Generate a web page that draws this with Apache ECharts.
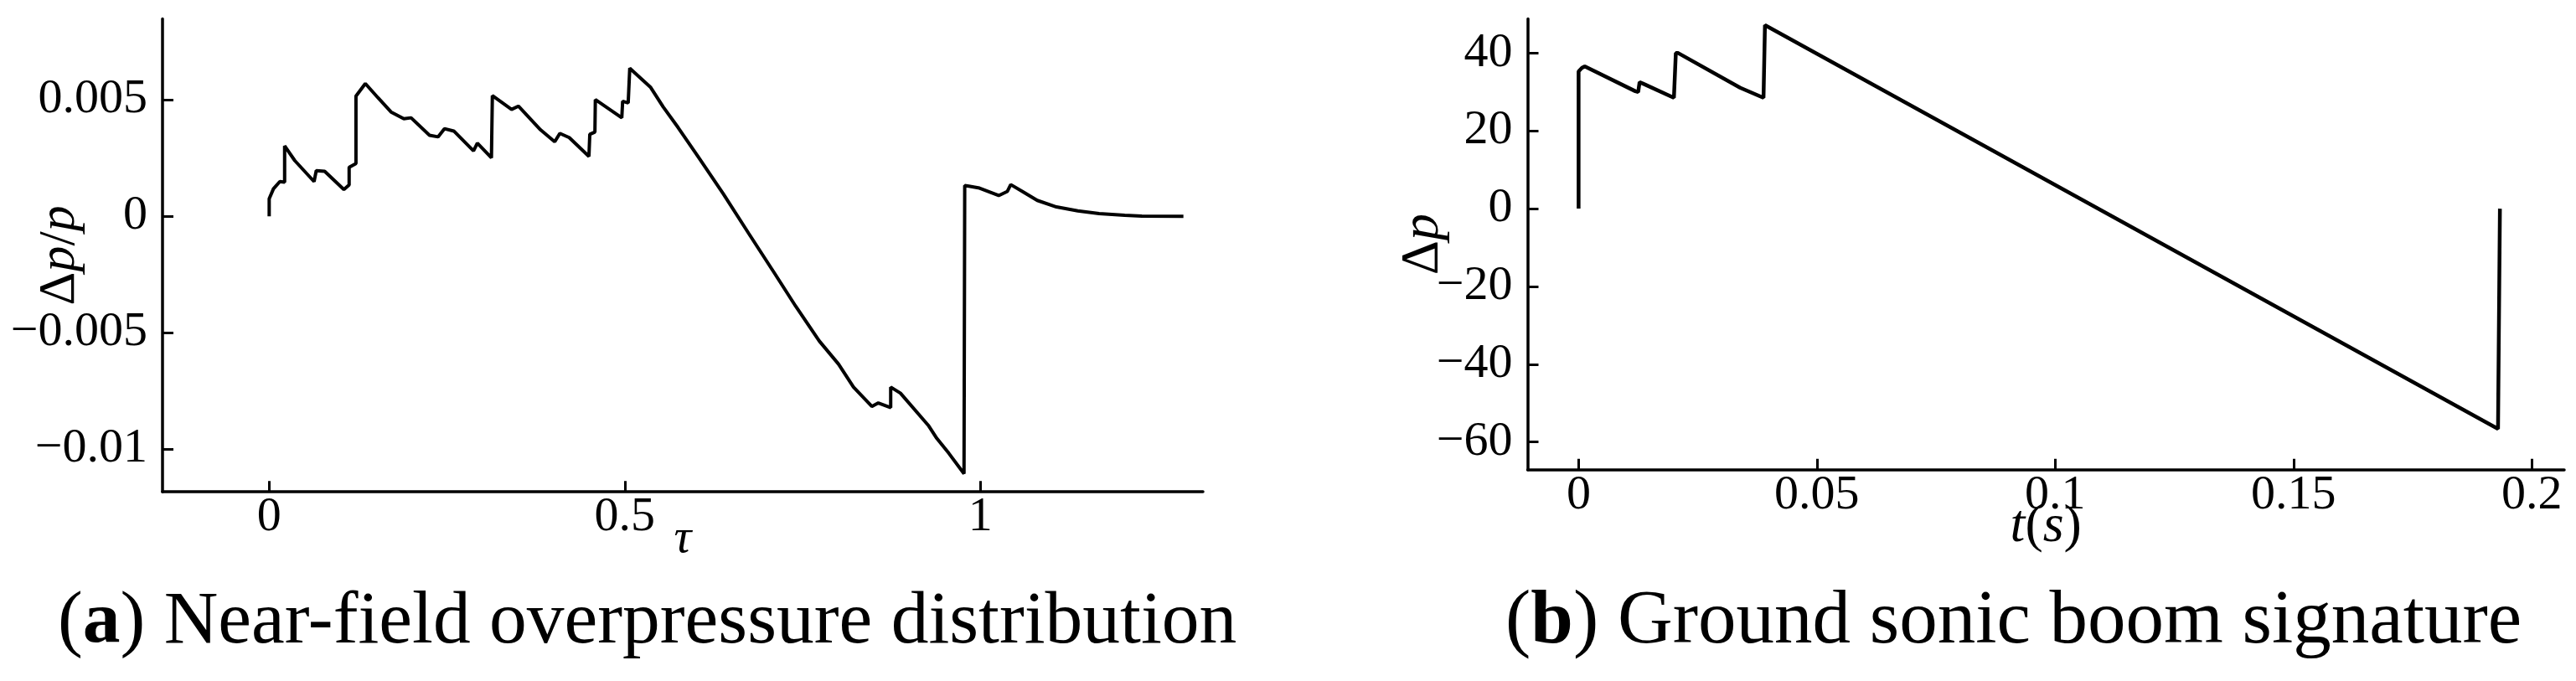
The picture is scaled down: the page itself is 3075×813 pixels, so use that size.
<!DOCTYPE html>
<html>
<head>
<meta charset="utf-8">
<script src="https://cdn.jsdelivr.net/npm/echarts@6/dist/echarts.min.js"></script>
<style>
html,body{margin:0;padding:0;background:#fff;}
#c{width:3075px;height:813px;}
</style>
</head>
<body>
<div id="c"></div>
<script>
// (a) Near-field overpressure distribution
const tauA = [0, 0, 0.006, 0.015, 0.0217, 0.0217, 0.036, 0.0631, 0.0662, 0.078, 0.105, 0.1124, 0.1124, 0.122, 0.122, 0.1352, 0.153, 0.1713, 0.1893, 0.1995, 0.2254, 0.2374, 0.2464, 0.2596, 0.2873, 0.2927, 0.3125, 0.3138, 0.3408, 0.3504, 0.3816, 0.4015, 0.4087, 0.4219, 0.4496, 0.4508, 0.458, 0.4586, 0.4958, 0.497, 0.5048, 0.507, 0.536, 0.554, 0.575, 0.6022, 0.6383, 0.6743, 0.7104, 0.7404, 0.7735, 0.8005, 0.8216, 0.8474, 0.8565, 0.8739, 0.8739, 0.8876, 0.9267, 0.9387, 0.9556, 0.977, 0.978, 0.9838, 0.9988, 1.0258, 1.038, 1.0427, 1.0589, 1.08, 1.107, 1.137, 1.167, 1.203, 1.227, 1.2855];
const dpA = [0, 0.00075, 0.00118, 0.00149, 0.00146, 0.00302, 0.00239, 0.00149, 0.00196, 0.00193, 0.00115, 0.00135, 0.0021, 0.00226, 0.00516, 0.0057, 0.00509, 0.00448, 0.00419, 0.00423, 0.00348, 0.00341, 0.00376, 0.00366, 0.00281, 0.00314, 0.00251, 0.00518, 0.00459, 0.00473, 0.00371, 0.0032, 0.00356, 0.00338, 0.00257, 0.00352, 0.00362, 0.00501, 0.00423, 0.00494, 0.00487, 0.00636, 0.00555, 0.0047, 0.00381, 0.0026, 0.00097, -0.00074, -0.00244, -0.00387, -0.00536, -0.00635, -0.00734, -0.00817, -0.00802, -0.00822, -0.00734, -0.0076, -0.00898, -0.00954, -0.01018, -0.01106, 0.00132, 0.00129, 0.00121, 0.00089, 0.00107, 0.00136, 0.00107, 0.00068, 0.0004, 0.00023, 0.00011, 0.00004, 0.00001, 0];
const xTicksA = [0, 0.5, 1];
const yTicksA = [0.005, 0, -0.005, -0.01];

// (b) Ground sonic boom signature
const tB = [0, 0, 0.0007, 0.0013, 0.0119, 0.0125, 0.0128, 0.01344, 0.0200, 0.0204, 0.0209, 0.0339, 0.0388, 0.0391, 0.1929, 0.1933];
const dpB = [0, 35.3, 36.2, 36.6, 30.2, 30.0, 32.5, 32.2, 28.5, 40.0, 40.0, 31.1, 28.5, 47.2, -56.6, 0];
const xTicksB = [0, 0.05, 0.1, 0.15, 0.2];
const yTicksB = [40, 20, 0, -20, -40, -60];

const captionA = 'Near-field overpressure distribution';
const captionB = 'Ground sonic boom signature';

const FF = 'Liberation Serif';
const pairs = (xs, ys) => xs.map((x, i) => [x, ys[i]]);
const fmt = v => String(v).replace('-', '\u2212');

function axisCommon(ticks, margin) {
  return {
    nameMoveOverlap: false,
    axisLine: {show: true, onZero: false, lineStyle: {color: '#000', width: 3.5}},
    axisTick: {show: true, inside: true, length: 13, customValues: ticks, lineStyle: {color: '#000', width: 3}},
    axisLabel: {customValues: ticks, formatter: fmt, color: '#000', fontFamily: FF, fontSize: 58, margin: margin,
      hideOverlap: false},
    splitLine: {show: false}
  };
}

const chart = echarts.init(document.getElementById('c'), null, {renderer: 'canvas'});
chart.setOption({
  backgroundColor: '#fff',
  animation: false,
  grid: [
    {left: 194, top: 22.5, width: 1242, height: 564.7, containLabel: false, outerBoundsMode: 'none'},
    {left: 1823.5, top: 22.5, width: 1237.5, height: 538.2, containLabel: false, outerBoundsMode: 'none'}
  ],
  xAxis: [
    Object.assign({type: 'value', gridIndex: 0, min: -0.15, max: 1.313,
      name: '\u03c4', nameLocation: 'middle', nameGap: 28,
      nameTextStyle: {fontFamily: FF, fontSize: 58, fontStyle: 'italic', color: '#000'}
    }, axisCommon(xTicksA, 2)),
    Object.assign({type: 'value', gridIndex: 1, min: -0.0107, max: 0.2068,
      name: '{i|t}{n|(}{i|s}{n|)}', nameLocation: 'middle', nameGap: 36,
      nameTextStyle: {fontFamily: FF, fontSize: 64, color: '#000',
        rich: {i: {fontFamily: FF, fontSize: 64, fontStyle: 'italic', color: '#000'},
               n: {fontFamily: FF, fontSize: 64, color: '#000'}}}
    }, axisCommon(xTicksB, 2))
  ],
  yAxis: [
    Object.assign({type: 'value', gridIndex: 0, min: -0.01184, max: 0.00848,
      name: '{n|\u0394}{i|p}{n|/}{i|p}', nameLocation: 'middle', nameGap: 91,
      nameTextStyle: {fontFamily: FF, fontSize: 62, color: '#000',
        rich: {i: {fontFamily: FF, fontSize: 62, fontStyle: 'italic', color: '#000'},
               n: {fontFamily: FF, fontSize: 62, color: '#000'}}}
    }, axisCommon(yTicksA, 18)),
    Object.assign({type: 'value', gridIndex: 1, min: -67.1, max: 48.8,
      name: '{n|\u0394}{i|p}', nameLocation: 'middle', nameGap: 92,
      nameTextStyle: {fontFamily: FF, fontSize: 64, color: '#000',
        rich: {i: {fontFamily: FF, fontSize: 64, fontStyle: 'italic', color: '#000'},
               n: {fontFamily: FF, fontSize: 64, color: '#000'}}}
    }, axisCommon(yTicksB, 18))
  ],
  series: [
    {type: 'line', xAxisIndex: 0, yAxisIndex: 0, data: pairs(tauA, dpA), showSymbol: false,
     lineStyle: {color: '#000', width: 4}, silent: true},
    {type: 'line', xAxisIndex: 1, yAxisIndex: 1, data: pairs(tB, dpB), showSymbol: false,
     lineStyle: {color: '#000', width: 4.5}, silent: true}
  ],
  graphic: [
    {type: 'text', x: 69, y: 743, style: {
      text: '({b|a}) ' + captionA, fontFamily: FF, fontSize: 89.5, fill: '#000',
      verticalAlign: 'middle', align: 'left',
      rich: {b: {fontFamily: FF, fontSize: 89.5, fontWeight: 'bold', fill: '#000'}}}},
    {type: 'text', x: 1797, y: 743, style: {
      text: '({b|b}) ' + captionB, fontFamily: FF, fontSize: 91, fill: '#000',
      verticalAlign: 'middle', align: 'left',
      rich: {b: {fontFamily: FF, fontSize: 91, fontWeight: 'bold', fill: '#000'}}}}
  ]
});
</script>
</body>
</html>
